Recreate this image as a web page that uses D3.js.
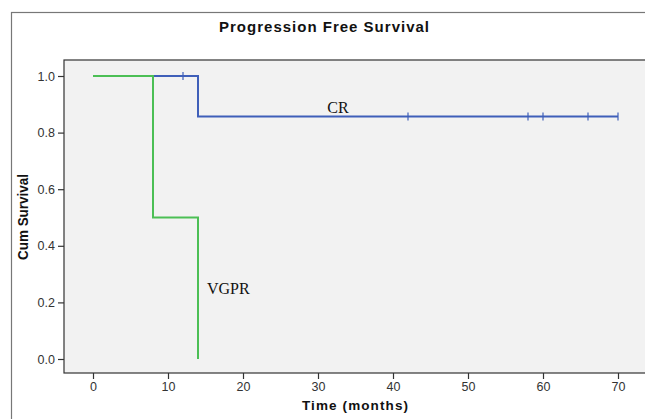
<!DOCTYPE html>
<html>
<head>
<meta charset="utf-8">
<script src="https://cdn.jsdelivr.net/npm/d3@7"></script>
<style>
  body { margin: 0; background: #fff; }
  svg { display: block; font-family: "Liberation Sans", Arial, sans-serif; }
</style>
</head>
<body>
<div id="chart"></div>
<script>
var svgWidth = 645;
var svgHeight = 419;

// survival curves: step points [time, survival]
var crSteps = [[0, 1], [14, 1], [14, 6 / 7], [70, 6 / 7]];
var vgprSteps = [[0, 1], [8, 1], [8, 0.5], [14, 0.5], [14, 0]];
// censored times
var crCensor = [12, 42, 58, 60, 66, 70];
var crCensorY = [1, 6 / 7, 6 / 7, 6 / 7, 6 / 7, 6 / 7];

var xTicks = [0, 10, 20, 30, 40, 50, 60, 70];
var yTicks = [0, 0.2, 0.4, 0.6, 0.8, 1.0];

var plot = { left: 64, top: 60, right: 650, bottom: 373 };

var svg = d3.select("#chart")
  .append("svg")
  .attr("width", svgWidth)
  .attr("height", svgHeight);

// outer frame
svg.append("rect")
  .attr("x", 11.5)
  .attr("y", 12.5)
  .attr("width", 660)
  .attr("height", 430)
  .attr("fill", "#fff")
  .attr("stroke", "#777")
  .attr("stroke-width", 1.2);

svg.append("text")
  .attr("x", 324)
  .attr("y", 32)
  .attr("text-anchor", "middle")
  .attr("font-size", "15px")
  .attr("font-weight", "bold")
  .attr("fill", "#111")
  .attr("textLength", 210)
  .attr("lengthAdjust", "spacing")
  .text("Progression Free Survival");

svg.append("rect")
  .attr("x", plot.left)
  .attr("y", plot.top)
  .attr("width", plot.right - plot.left)
  .attr("height", plot.bottom - plot.top)
  .attr("fill", "#f2f2f2")
  .attr("stroke", "#333")
  .attr("stroke-width", 1.2);

var xScale = d3.scaleLinear().domain([0, 70]).range([93, 618]);
var yScale = d3.scaleLinear().domain([0, 1]).range([359, 76]);

var xAxis = svg.append("g")
  .attr("transform", `translate(0, ${plot.bottom})`)
  .call(d3.axisBottom(xScale).tickValues(xTicks).tickSize(6).tickPadding(3).tickFormat(d3.format("d")));
xAxis.select(".domain").remove();

var yAxis = svg.append("g")
  .attr("transform", `translate(${plot.left}, 0)`)
  .call(d3.axisLeft(yScale).tickValues(yTicks).tickSize(6).tickPadding(3).tickFormat(d3.format(".1f")));
yAxis.select(".domain").remove();

svg.selectAll(".tick text")
  .style("font-size", "12.5px")
  .attr("fill", "#333");
svg.selectAll(".tick line")
  .attr("stroke", "#333")
  .attr("stroke-width", 1.2);

svg.append("text")
  .attr("x", 355)
  .attr("y", 410)
  .attr("text-anchor", "middle")
  .attr("font-size", "13.5px")
  .attr("font-weight", "bold")
  .attr("fill", "#111")
  .attr("textLength", 106)
  .attr("lengthAdjust", "spacing")
  .text("Time (months)");

svg.append("text")
  .attr("transform", "rotate(-90)")
  .attr("x", -217)
  .attr("y", 28)
  .attr("text-anchor", "middle")
  .attr("font-size", "14px")
  .attr("font-weight", "bold")
  .attr("fill", "#111")
  .attr("textLength", 86)
  .attr("lengthAdjust", "spacingAndGlyphs")
  .text("Cum Survival");

var line = d3.line()
  .x(d => xScale(d[0]))
  .y(d => yScale(d[1]));

svg.append("path")
  .datum(crSteps)
  .attr("d", line)
  .attr("fill", "none")
  .attr("stroke", "#3f5fb9")
  .attr("stroke-width", 2);

svg.append("path")
  .datum(vgprSteps)
  .attr("d", line)
  .attr("fill", "none")
  .attr("stroke", "#4cbf55")
  .attr("stroke-width", 2);

svg.selectAll(".censor")
  .data(crCensor)
  .enter()
  .append("line")
  .attr("class", "censor")
  .attr("x1", d => xScale(d))
  .attr("x2", d => xScale(d))
  .attr("y1", (d, i) => yScale(crCensorY[i]) - 4)
  .attr("y2", (d, i) => yScale(crCensorY[i]) + 4)
  .attr("stroke", "#3f5fb9")
  .attr("stroke-width", 1.2);

svg.append("text")
  .attr("x", 338)
  .attr("y", 113)
  .attr("text-anchor", "middle")
  .attr("font-family", "Liberation Serif, serif")
  .attr("font-size", "16px")
  .attr("fill", "#111")
  .text("CR");

svg.append("text")
  .attr("x", 207)
  .attr("y", 294)
  .attr("font-family", "Liberation Serif, serif")
  .attr("font-size", "16px")
  .attr("fill", "#111")
  .text("VGPR");
</script>
</body>
</html>
